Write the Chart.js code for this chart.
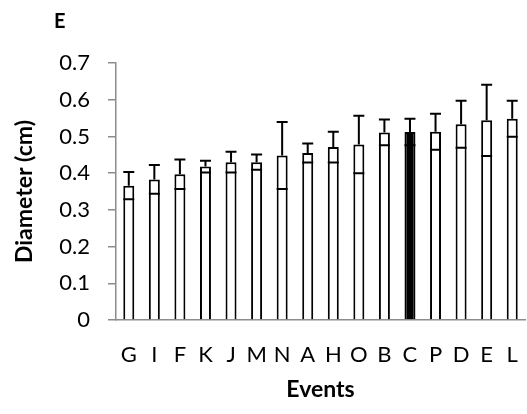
<!DOCTYPE html>
<html>
<head>
<meta charset="utf-8">
<script src="https://cdn.jsdelivr.net/npm/chart.js@4"></script>
<style>
  html, body { margin: 0; padding: 0; background: #fff; }
  #wrap { width: 527px; height: 414px; }
</style>
</head>
<body>
<div id="wrap"><canvas id="diamChart" width="527" height="414"></canvas></div>
<script>
// ---------------- DATA ----------------
const events = ["G", "I", "F", "K", "J", "M", "N", "A", "H", "O", "B", "C", "P", "D", "E", "L"];
const diameter = [0.366, 0.383, 0.397, 0.418, 0.430, 0.430, 0.448, 0.455, 0.471, 0.478, 0.511, 0.512, 0.513, 0.533, 0.544, 0.548];
const diameterErr = [0.037, 0.039, 0.040, 0.016, 0.028, 0.021, 0.091, 0.026, 0.042, 0.078, 0.035, 0.036, 0.049, 0.064, 0.097, 0.049];
const yTicks = [0, 0.1, 0.2, 0.3, 0.4, 0.5, 0.6, 0.7];

const FONT = "Lato, 'Open Sans', sans-serif";
const AXIS_GREY = "#8c8c8c";

// error bars: upper whisker + cap, lower cap inside the bar
const errorBars = {
    id: "errorBars",
    afterDatasetsDraw(chart) {
        const ctx = chart.ctx;
        const meta = chart.getDatasetMeta(0);
        const y = chart.scales.y;
        ctx.save();
        ctx.strokeStyle = "#000";
        ctx.lineWidth = 2;
        meta.data.forEach((bar, i) => {
            const x = bar.x;
            const half = bar.width / 2;
            const top = y.getPixelForValue(diameter[i] + diameterErr[i]);
            const low = y.getPixelForValue(diameter[i] - diameterErr[i]);
            ctx.beginPath();
            ctx.moveTo(x, bar.y);
            ctx.lineTo(x, top);
            ctx.moveTo(x - half, top);
            ctx.lineTo(x + half, top);
            ctx.moveTo(x - half, low);
            ctx.lineTo(x + half, low);
            ctx.stroke();
        });
        ctx.restore();
    }
};

// panel letter above the y axis
const panelLetter = {
    id: "panelLetter",
    afterDraw(chart) {
        const ctx = chart.ctx;
        ctx.save();
        ctx.fillStyle = "#000";
        ctx.font = "bold 20px " + FONT;
        ctx.textBaseline = "middle";
        ctx.fillText("E", 54, 22);
        ctx.restore();
    }
};

new Chart(document.getElementById("diamChart"), {
    type: "bar",
    data: {
        labels: events,
        datasets: [{
            data: diameter,
            backgroundColor: events.map(e => e === "C" ? "#000" : "#fff"),
            borderColor: "#000",
            borderWidth: 2,
            categoryPercentage: 1,
            barPercentage: 0.43
        }]
    },
    options: {
        responsive: false,
        animation: false,
        layout: { padding: { top: 63, right: 2, left: 0, bottom: 11 } },
        plugins: {
            legend: { display: false },
            tooltip: { enabled: false }
        },
        scales: {
            x: {
                grid: { display: false },
                border: { color: AXIS_GREY, width: 1.5 },
                ticks: {
                    color: "#000",
                    font: { family: FONT, size: 22 },
                    padding: 14,
                    maxRotation: 0,
                    autoSkip: false
                },
                title: {
                    display: true,
                    text: "Events",
                    color: "#000",
                    font: { family: FONT, size: 23, weight: "bold" },
                    padding: { top: 0, bottom: 0 }
                },
                afterFit(scale) {
                    scale.height = 83;
                    scale.paddingLeft = 0;
                    scale.paddingRight = 0;
                }
            },
            y: {
                min: 0,
                max: 0.7,
                afterBuildTicks(scale) { scale.ticks = yTicks.map(v => ({ value: v })); },
                grid: {
                    drawOnChartArea: false,
                    color: AXIS_GREY,
                    tickLength: 8,
                    lineWidth: 1.5
                },
                border: { color: AXIS_GREY, width: 1.5 },
                ticks: {
                    color: "#000",
                    font: { family: FONT, size: 22 },
                    padding: 18,
                    callback: v => v === 0 ? "0" : v.toFixed(1)
                },
                title: {
                    display: true,
                    text: "Diameter (cm)",
                    color: "#000",
                    font: { family: FONT, size: 23, weight: "bold" },
                    padding: { top: 11, bottom: 0 }
                },
                afterFit(scale) { scale.width = 116; }
            }
        }
    },
    plugins: [errorBars, panelLetter]
});
</script>
</body>
</html>
